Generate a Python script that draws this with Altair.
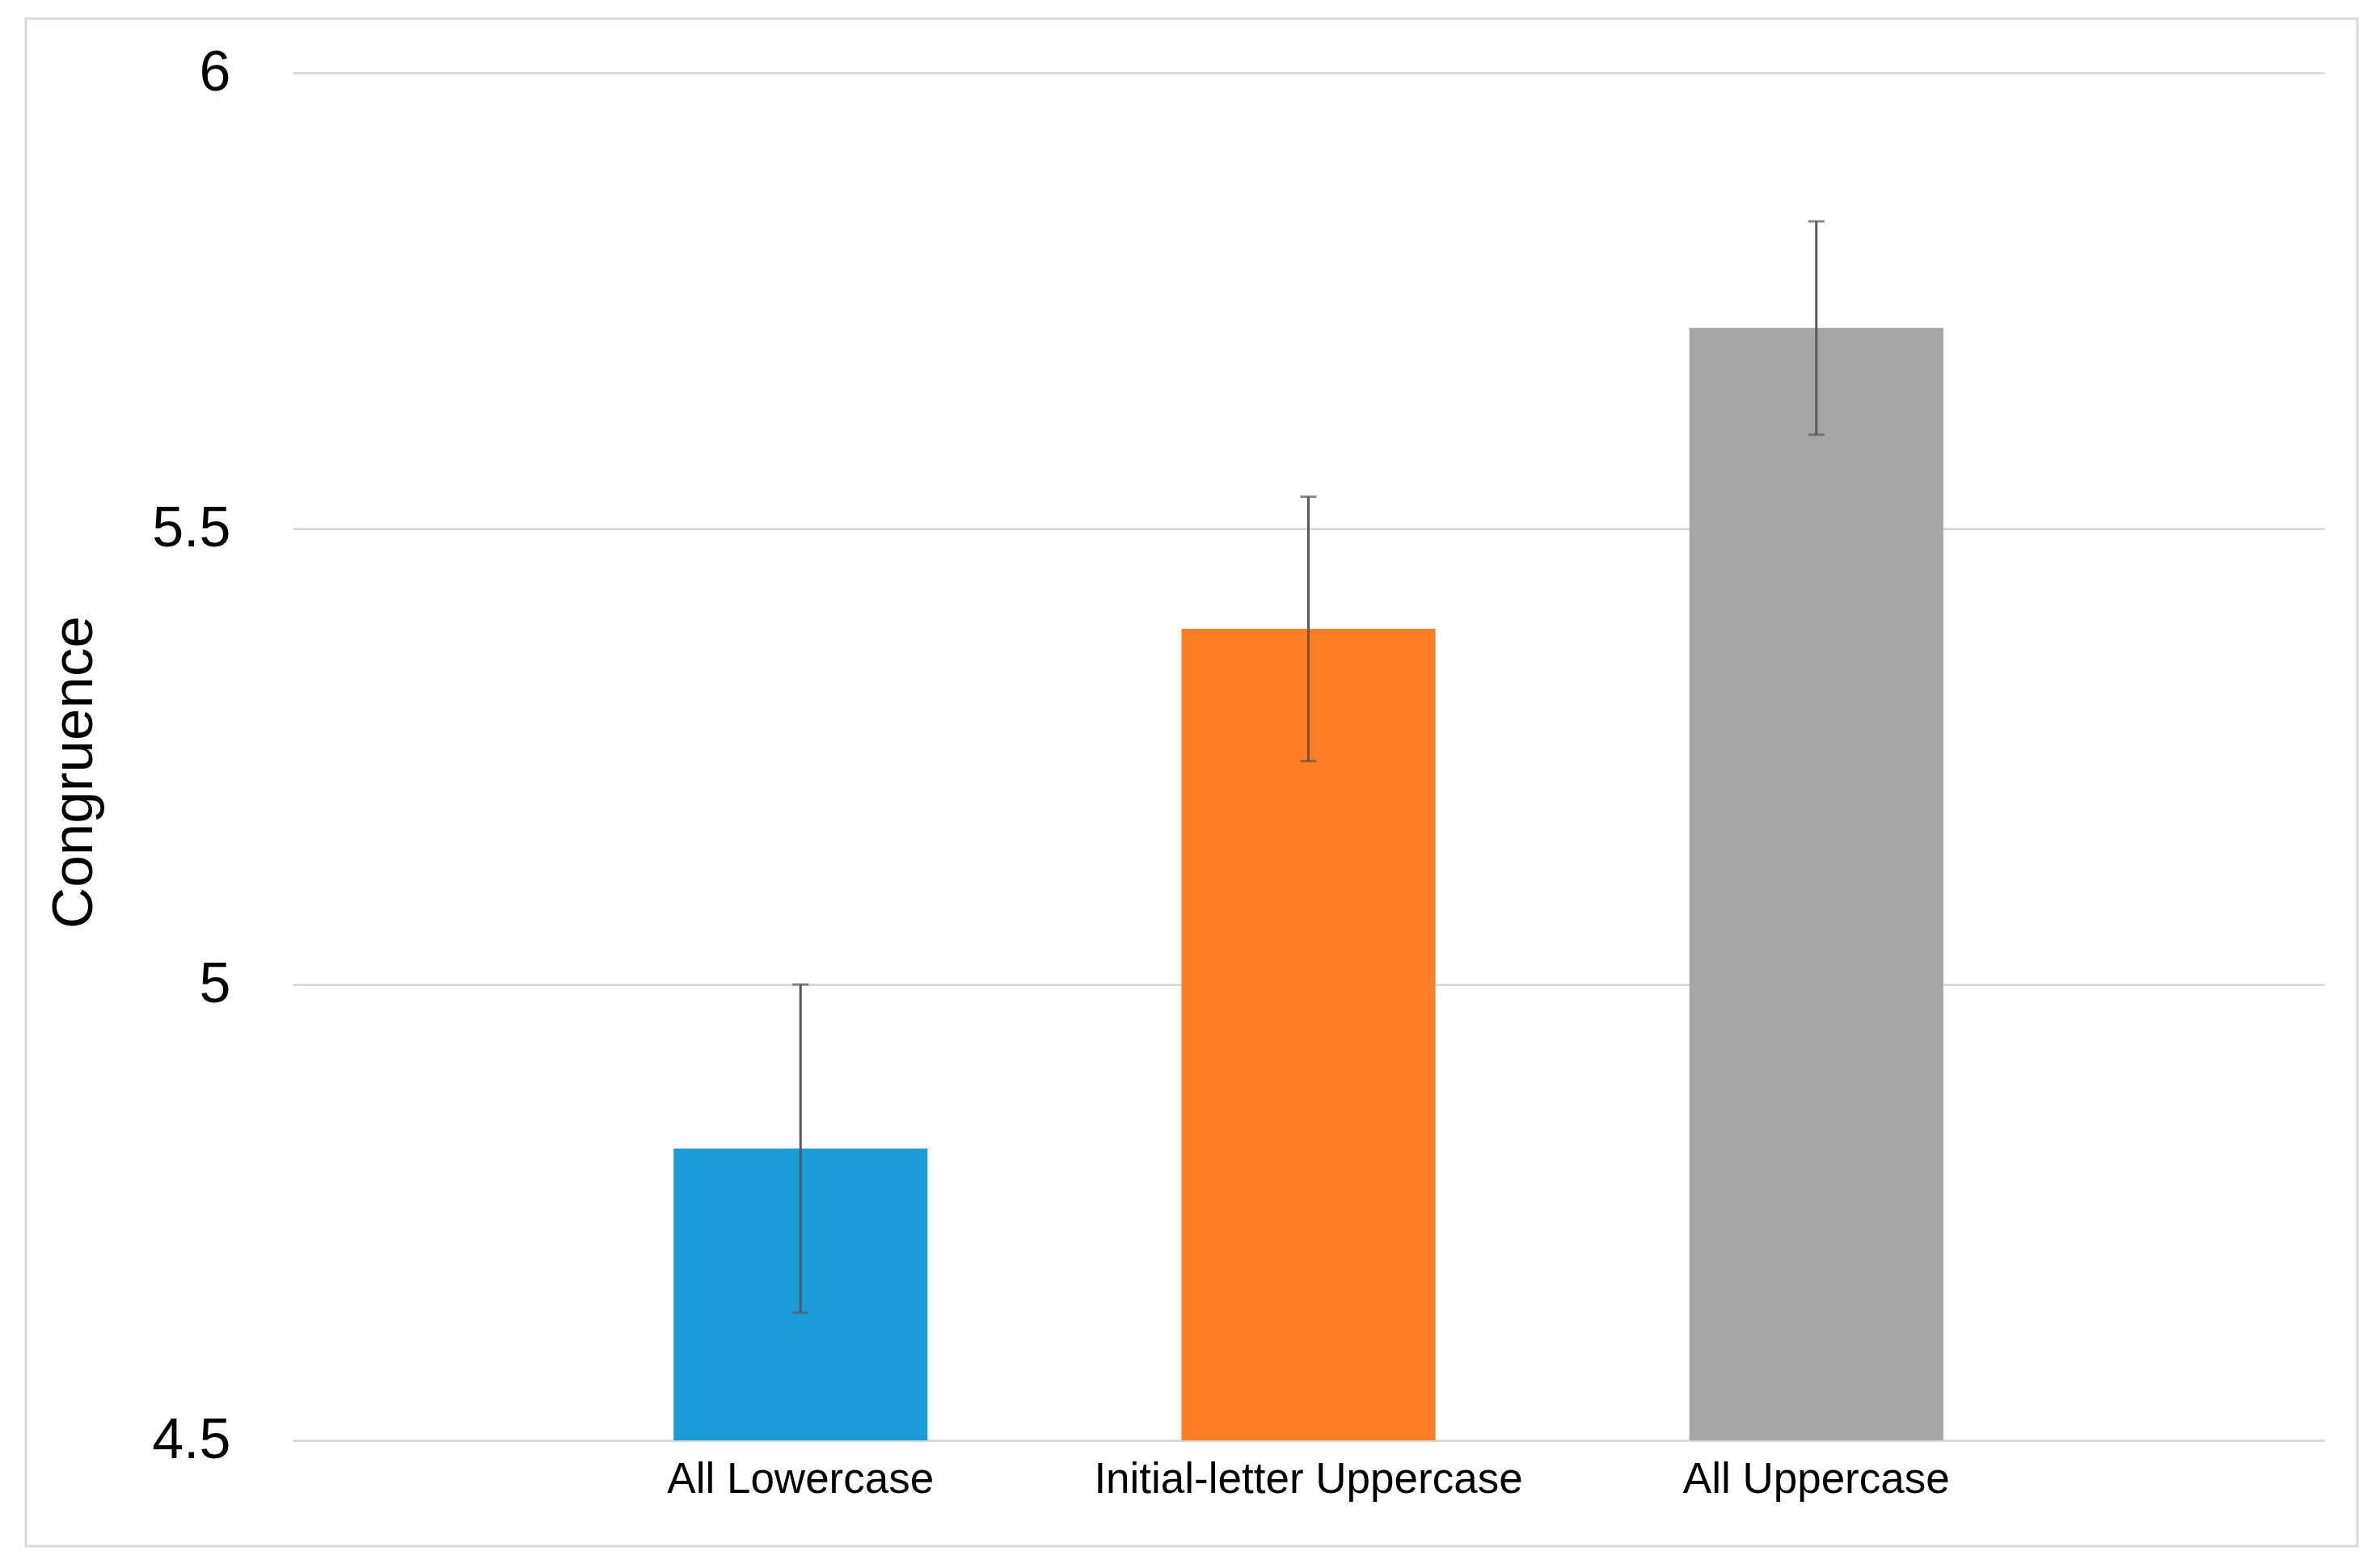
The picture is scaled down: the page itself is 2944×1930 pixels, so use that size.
import altair as alt
import pandas as pd

categories = ["All Lowercase", "Initial-letter Uppercase", "All Uppercase"]
means = [4.82, 5.39, 5.72]
errors = [0.18, 0.145, 0.117]
colors = ["#1A9CD8", "#FE7E25", "#A6A6A6"]
y_ticks = [4.5, 5, 5.5, 6]

df = pd.DataFrame({
    "cat": categories,
    "mean": means,
    "lo": [m - e for m, e in zip(means, errors)],
    "hi": [m + e for m, e in zip(means, errors)],
})

W, H = 2513, 1692
FONT = "Liberation Sans"

x_enc = alt.X(
    "cat:N",
    sort=categories,
    scale=alt.Scale(paddingInner=0.5, paddingOuter=0.75),
    axis=alt.Axis(
        title=None, domain=False, ticks=False, tickSize=0, labelAngle=0, labelLimit=0,
        grid=False,
        labelFont=FONT, labelFontSize=53, labelColor="#000000", labelPadding=22,
    ),
)
y_scale = alt.Scale(domain=[4.5, 6], zero=False, nice=False)

bars = alt.Chart(df).mark_bar().encode(
    x=x_enc,
    y=alt.Y(
        "mean:Q",
        scale=y_scale,
        axis=alt.Axis(
            title="Congruence", values=y_ticks, format="~g", domain=False, ticks=False, tickSize=0,
            grid=True, gridColor="#D9D9D9", gridWidth=3,
            labelFont=FONT, labelFontSize=70, labelColor="#000000", labelPadding=77,
            labelBaseline="middle",
            titleFont=FONT, titleFontSize=71, titleFontWeight="normal", titleColor="#000000",
            titleAngle=-90, titleX=-270, titleY=865, titleAlign="center", titleBaseline="middle",
        ),
    ),
    y2=alt.datum(4.5),
    color=alt.Color("cat:N", scale=alt.Scale(domain=categories, range=colors), legend=None),
)

rules = alt.Chart(df).mark_rule(color="#595959", strokeWidth=3).encode(
    x=alt.X("cat:N", sort=categories),
    y=alt.Y("lo:Q", scale=y_scale),
    y2="hi:Q",
)
caps_lo = alt.Chart(df).mark_tick(color="#595959", thickness=3, size=20).encode(
    x=alt.X("cat:N", sort=categories),
    y=alt.Y("lo:Q", scale=y_scale),
)
caps_hi = alt.Chart(df).mark_tick(color="#595959", thickness=3, size=20).encode(
    x=alt.X("cat:N", sort=categories),
    y=alt.Y("hi:Q", scale=y_scale),
)

border = alt.Chart(pd.DataFrame({"a": [0]})).mark_rect(
    fillOpacity=0, stroke="#D9D9D9", strokeWidth=3
).encode(
    x=alt.value(-330), x2=alt.value(2554), y=alt.value(-67), y2=alt.value(1823)
)

chart = alt.layer(border, bars, rules, caps_lo, caps_hi).properties(
    width=W, height=H,
    view=alt.ViewBackground(stroke="transparent", strokeWidth=0),
    autosize=alt.AutoSizeParams(type="none"),
    padding={"left": 354, "top": 82, "right": 61, "bottom": 140},
).configure_view(
    stroke="transparent", strokeWidth=0, strokeOpacity=0
).configure_axisX(grid=False).configure(background="#FFFFFF")

chart.save("out.html", embed_options={"renderer": "svg", "actions": False})
